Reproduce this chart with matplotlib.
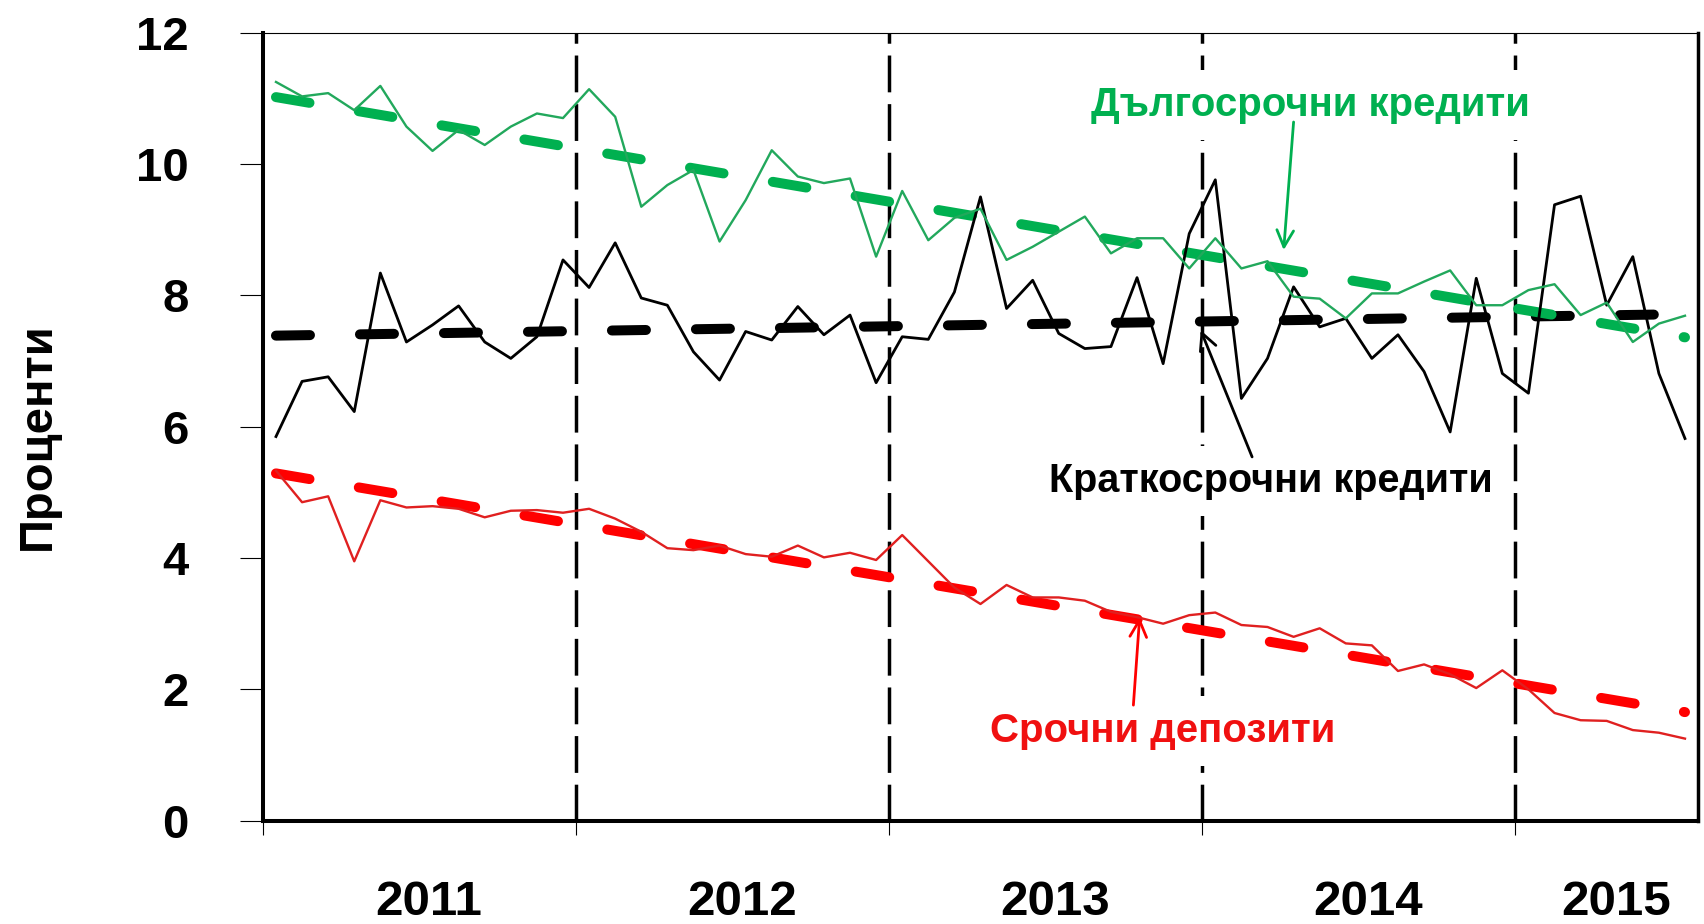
import numpy as np
import matplotlib
matplotlib.use('Agg')
import matplotlib.pyplot as plt

plt.rcParams['font.family'] = ['Liberation Sans', 'DejaVu Sans']
plt.rcParams['font.weight'] = 'bold'

# monthly data, Jan 2011 - Jul 2015
years = ['2011', '2012', '2013', '2014', '2015']
months_per_year = [12, 12, 12, 12, 7]

short_loans = [5.85, 6.69, 6.76, 6.23, 8.34, 7.29, 7.55, 7.84, 7.29, 7.04, 7.37, 8.54,
               8.12, 8.80, 7.96, 7.85, 7.14, 6.71, 7.45, 7.32, 7.83, 7.40, 7.70, 6.67,
               7.37, 7.33, 8.05, 9.50, 7.80, 8.23, 7.42, 7.19, 7.22, 8.27, 6.96, 8.94,
               9.76, 6.43, 7.04, 8.13, 7.52, 7.65, 7.04, 7.40, 6.84, 5.92, 8.26, 6.81,
               6.51, 9.38, 9.51, 7.85, 8.59, 6.81, 5.82]

long_loans = [11.25, 11.03, 11.08, 10.82, 11.19, 10.57, 10.20, 10.52, 10.29, 10.57, 10.77, 10.70,
              11.14, 10.72, 9.35, 9.68, 9.91, 8.82, 9.45, 10.21, 9.81, 9.71, 9.78, 8.59,
              9.59, 8.84, 9.18, 9.32, 8.54, 8.74, 8.97, 9.20, 8.64, 8.87, 8.87, 8.41,
              8.87, 8.41, 8.52, 7.98, 7.95, 7.65, 8.03, 8.03, 8.21, 8.38, 7.85, 7.85,
              8.08, 8.17, 7.70, 7.89, 7.29, 7.57, 7.69]

deposits = [5.33, 4.85, 4.94, 3.95, 4.88, 4.77, 4.79, 4.75, 4.62, 4.72, 4.73, 4.69,
            4.75, 4.60, 4.40, 4.15, 4.12, 4.19, 4.06, 4.02, 4.19, 4.01, 4.08, 3.97,
            4.35, 3.95, 3.55, 3.30, 3.59, 3.40, 3.40, 3.35, 3.18, 3.10, 3.00, 3.13,
            3.17, 2.98, 2.95, 2.80, 2.93, 2.70, 2.67, 2.28, 2.38, 2.23, 2.02, 2.29,
            2.00, 1.64, 1.53, 1.52, 1.38, 1.34, 1.25]

green = '#00b050'
green_thin = '#22a85c'
red = '#ff0000'
red_thin = '#e02020'

n = len(short_loans)
x = np.arange(n)
edges = np.cumsum([0] + months_per_year) - 0.5
centers = (edges[:-1] + edges[1:]) / 2

fig = plt.figure(figsize=(17.04, 9.24), dpi=100)
ax = fig.add_axes([0.1543, 0.1118, 0.8422, 0.8528])
ax.set_xlim(edges[0], edges[-1])
ax.set_ylim(0, 12)

# year separators
for e in edges[1:-1]:
    ax.axvline(e, color='black', lw=2.5, dashes=(10.6, 3.4), zorder=1)

# trend lines
for vals, col in [(short_loans, 'black'), (long_loans, green), (deposits, red)]:
    fit = np.poly1d(np.polyfit(x, vals, 1))
    ax.plot(x, fit(x), color=col, lw=7.2, dashes=(3.4, 5.0),
            dash_capstyle='round', zorder=3)

ax.plot(x, short_loans, color='black', lw=2.0, zorder=4)
ax.plot(x, long_loans, color=green_thin, lw=1.7, zorder=4)
ax.plot(x, deposits, color=red_thin, lw=1.7, zorder=4)

# spines / ticks
for s, w in [('left', 2.9), ('bottom', 2.9), ('right', 2.5), ('top', 0.8)]:
    ax.spines[s].set_linewidth(w)
    ax.spines[s].set_color('black')

ax.set_yticks(range(0, 13, 2))
ax.tick_params(axis='y', direction='out', length=16.5, width=0.8, pad=37,
               labelsize=34)
for lab in ax.get_yticklabels():
    lab.set_fontweight('bold')

ax.set_xticks(edges[:-1])
ax.set_xticklabels([])
ax.tick_params(axis='x', direction='out', length=10, width=0.8)

for c, yr in zip(centers, years):
    ax.text(c + 0.35, -0.12, yr, transform=ax.get_xaxis_transform(),
            ha='center', va='baseline', fontsize=35.5, fontweight='bold')

fig.text(38 / 1704, 1 - 436 / 924, 'Проценти', rotation=90, ha='center',
         va='center', fontsize=34, fontweight='bold')

box = dict(boxstyle='square,pad=0.4', fc='white', ec='none')

ax.text(39.63, 10.73, 'Дългосрочни кредити', color=green, fontsize=29,
        fontweight='bold', ha='center', va='baseline', bbox=box, zorder=6)
ax.annotate('', xy=(38.62, 8.69), xytext=(39.0, 10.64),
            arrowprops=dict(arrowstyle='->', color=green, lw=2,
                            mutation_scale=30, shrinkA=0, shrinkB=0), zorder=7)

ax.text(38.14, 5.01, 'Краткосрочни кредити', color='black', fontsize=28.5,
        fontweight='bold', ha='center', va='baseline', bbox=box, zorder=6)
ax.annotate('', xy=(35.44, 7.47), xytext=(37.41, 5.54),
            arrowprops=dict(arrowstyle='->', color='black', lw=2,
                            mutation_scale=30, shrinkA=0, shrinkB=0), zorder=7)

ax.text(34.0, 1.20, 'Срочни депозити', color='#f01010', fontsize=29,
        fontweight='bold', ha='center', va='baseline', bbox=box, zorder=6)
ax.annotate('', xy=(33.1, 3.10), xytext=(32.86, 1.76),
            arrowprops=dict(arrowstyle='->', color=red, lw=2,
                            mutation_scale=30, shrinkA=0, shrinkB=0), zorder=7)

fig.savefig('out.png', dpi=100)
